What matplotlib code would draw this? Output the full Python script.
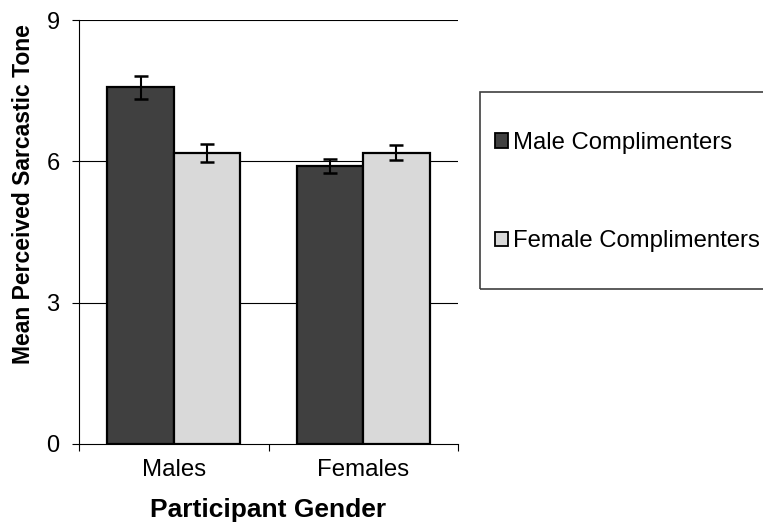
import numpy as np
import matplotlib
matplotlib.use('Agg')
import matplotlib.pyplot as plt
from matplotlib.patches import Rectangle, Patch

plt.rcParams['font.family'] = ['Liberation Sans', 'DejaVu Sans']

# data
groups = ['Males', 'Females']
series = ['Male Complimenters', 'Female Complimenters']
male_compl = [7.57, 5.91]
female_compl = [6.17, 6.18]
male_err = [0.25, 0.15]
female_err = [0.19, 0.16]
yticks = [0, 3, 6, 9]

dark = '#404040'
light = '#d9d9d9'

fig = plt.figure(figsize=(7.63, 5.22), dpi=100)
ax = fig.add_axes([79/763, 1 - 444/522, (458 - 79)/763, (444 - 20)/522])

centers = np.arange(len(groups)) + 0.5
w = 0.35
ekw = dict(ecolor='black', elinewidth=1.5, capsize=5, capthick=1.8)
ax.bar(centers - w/2, male_compl, w, color=dark, edgecolor='black',
       linewidth=1.6, yerr=male_err, error_kw=ekw, zorder=3)
ax.bar(centers + w/2, female_compl, w, color=light, edgecolor='black',
       linewidth=1.6, yerr=female_err, error_kw=ekw, zorder=3)

ax.set_xlim(0, 2)
ax.set_ylim(0, 9)
ax.set_yticks(yticks)
ax.set_yticklabels([str(t) for t in yticks], fontsize=17)
for t in yticks[1:]:
    ax.axhline(t, color='black', linewidth=0.8, zorder=1)

# category boundaries get tick marks, labels sit in between
ax.set_xticks([0, 1, 2])
ax.set_xticklabels([])
ax.set_xticks(centers, minor=True)
ax.set_xticklabels(groups, minor=True, fontsize=17.3)
ax.tick_params(axis='x', which='major', direction='out', length=5, width=0.8)
ax.tick_params(axis='x', which='minor', length=0, pad=11)
ax.tick_params(axis='y', direction='out', length=5, width=0.8, pad=9)

for s in ['top', 'right']:
    ax.spines[s].set_visible(False)
for s in ['left', 'bottom']:
    ax.spines[s].set_linewidth(0.8)

fig.text(268.5/763, 1 - 510/522, 'Participant Gender', ha='center',
         va='center', fontsize=19, fontweight='bold')
fig.text(24/763, 1 - 194/522, 'Mean Perceived Sarcastic Tone', ha='center',
         va='center', rotation=90, fontsize=16.5, fontweight='bold')

# legend box runs off the right edge like the original
fig.patches.append(Rectangle((480/763, 1 - 289/522), 300/763, 197/522,
                             transform=fig.transFigure, fill=False,
                             edgecolor='#404040', linewidth=1.2))
handles = [Patch(facecolor=dark, edgecolor='black', linewidth=1.3),
           Patch(facecolor=light, edgecolor='black', linewidth=1.3)]
fig.legend(handles, series, loc='center left',
           bbox_to_anchor=(483/763, 1 - 192/522), frameon=False,
           fontsize=17.2, handlelength=0.55, handleheight=0.55,
           handletextpad=0.2, labelspacing=3.2, borderpad=0)

fig.savefig('out.png', dpi=100)
